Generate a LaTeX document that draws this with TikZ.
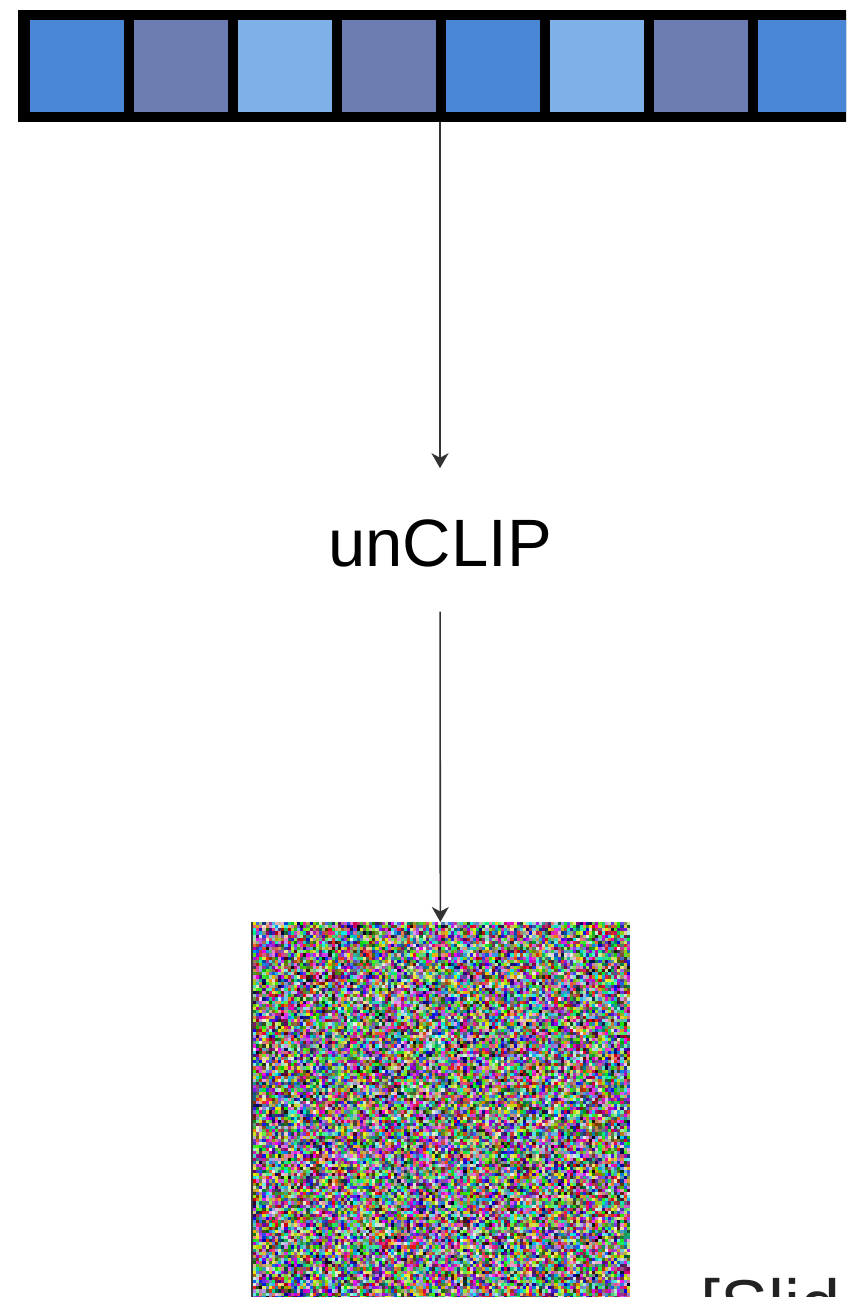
\documentclass[tikz,border=0pt]{standalone}
\usepackage{fontspec}
\setmainfont{Liberation Sans}
\usetikzlibrary{arrows.meta}

\definecolor{cellblue}{RGB}{74,134,214}
\definecolor{cellslate}{RGB}{108,123,176}
\definecolor{celllight}{RGB}{128,176,232}
\definecolor{wire}{RGB}{51,51,51}
\definecolor{credit}{RGB}{34,34,34}
\definecolor{noiseedge}{RGB}{60,60,60}

\makeatletter
% channel level 0..10 -> 0, 0.09, ..., 0.9
\def\nz@lvl#1{\expandafter\nz@lvl@#1..\relax}
\def\nz@lvl@#1.#2\relax{\ifnum#1=10 0.92\else 0.#1\fi}
% random colour noise: left, top (pt, y downwards), last column, last row, cell size
\newcommand\noisefield[5]{%
  \begin{pgfscope}%
    \pgfmathsetseed{7919}%
    \foreach \nzrow in {0,...,#4}{%
      \foreach \nzcol in {0,...,#3}{%
        \pgfmathrandominteger{\nzr}{0}{10}%
        \pgfmathrandominteger{\nzg}{0}{10}%
        \pgfmathrandominteger{\nzb}{0}{10}%
        \pgfsys@color@rgb@fill{\nz@lvl\nzr}{\nz@lvl\nzg}{\nz@lvl\nzb}%
        \pgfpathrectangle
          {\pgfqpoint{\dimexpr#1pt+#5pt*\nzcol\relax}{\dimexpr-#2pt-#5pt*\nzrow-#5pt-0.4pt\relax}}%
          {\pgfqpoint{\dimexpr#5pt+0.4pt\relax}{\dimexpr#5pt+0.4pt\relax}}%
        \pgfusepath{fill}%
      }%
    }%
  \end{pgfscope}%
}
\makeatother

\begin{document}
\begin{tikzpicture}[x=1pt,y=-1pt,
  cellbox/.style={minimum width=93.5pt,minimum height=92pt,inner sep=0pt,outer sep=0pt},
  flow/.style={draw=wire,line width=1.6pt,-{Stealth[length=15pt,width=17pt,inset=4.5pt]}},
  bigtext/.style={inner sep=0pt,outer sep=0pt}]
\useasboundingbox (0,0) rectangle (846,1297);
\clip (0,0) rectangle (846,1297);
\fill[white] (0,0) rectangle (846,1297);

% token strip
\node[fill=black,minimum width=844pt,minimum height=112pt,inner sep=0pt,outer sep=0pt] (bar) at (440,66) {};
\foreach \i/\c in {0/cellblue,1/cellslate,2/celllight,3/cellslate,4/cellblue,5/celllight,6/cellslate,7/cellblue}
  \node[cellbox,fill=\c] (c\i) at ({76.75+104*\i},66) {};

% model label
\node[bigtext,font=\fontsize{67}{80}\selectfont,anchor=base] (unclip) at (440,566) {unCLIP};

% noise image
\node[minimum width=377pt,minimum height=377pt,inner sep=0pt,outer sep=0pt] (noise) at (440.5,1110.5) {};
\noisefield{253}{922}{119}{119}{3.14}
\draw[noiseedge,line width=1.4pt] (noise.north west) -- (noise.south west);

% arrows
\draw[flow,shorten >=51pt] (bar) -- (unclip);
\draw[flow,shorten <=45pt] (unclip) -- (noise);

% caption running off the page
\node[bigtext,font=\fontsize{72}{86}\selectfont,text=credit,anchor=base west] (creditline) at (700,1330) {[Slid};
\end{tikzpicture}
\end{document}
